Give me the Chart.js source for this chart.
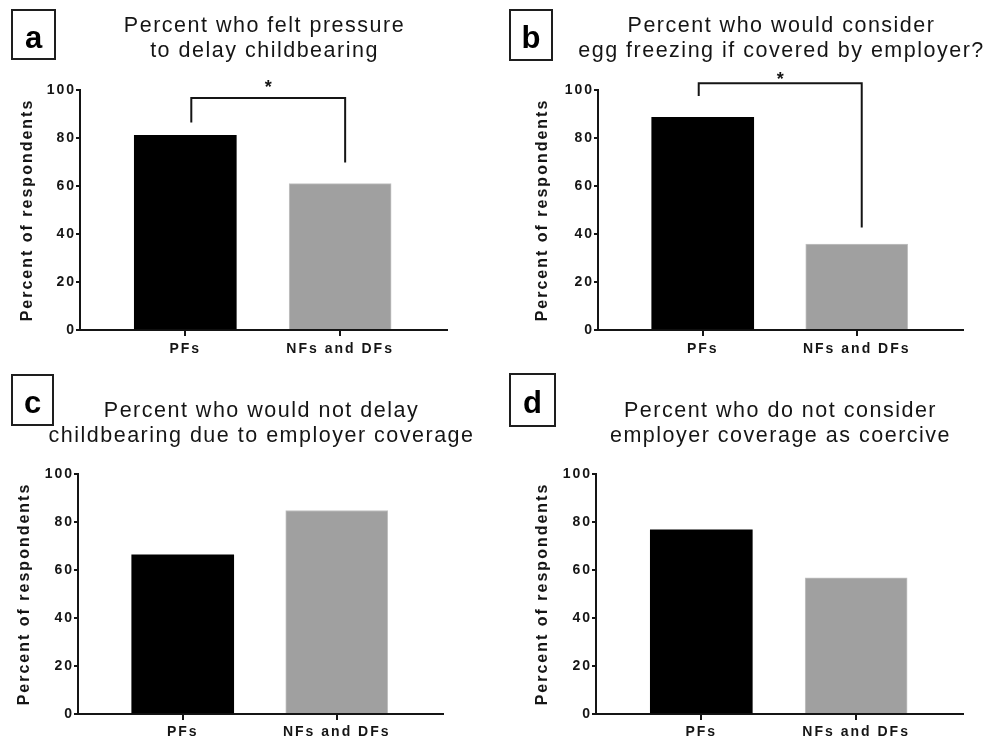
<!DOCTYPE html>
<html>
<head>
<meta charset="utf-8">
<script src="https://cdn.jsdelivr.net/npm/chart.js@4.4.1/dist/chart.umd.min.js"></script>
<style>
  html, body { margin: 0; padding: 0; background: #fff; }
  #wrap { position: relative; width: 996px; height: 741px; overflow: hidden; background: #fff; }
  #wrap canvas { position: absolute; }
</style>
</head>
<body>
<div id="wrap">
  <canvas id="panelA" width="498" height="370" style="left:0;top:0"></canvas>
  <canvas id="panelB" width="498" height="370" style="left:498px;top:0"></canvas>
  <canvas id="panelC" width="498" height="371" style="left:0;top:370px"></canvas>
  <canvas id="panelD" width="498" height="371" style="left:498px;top:370px"></canvas>
</div>
<script>
// Survey groups on the x axis
const categories = ['PFs', 'NFs and DFs'];
// Y axis tick values (percent)
const yTickValues = [0, 20, 40, 60, 80, 100];
const yAxisTitle = 'Percent of respondents';

// Percent of respondents per group
const feltPressure = [81.1, 61.0];
const wouldConsiderFreezing = [88.6, 35.8];
const wouldNotDelay = [66.3, 84.8];
const notCoercive = [76.7, 56.7];

// Panel headings
const titleA = ['Percent who felt pressure', 'to delay childbearing'];
const titleB = ['Percent who would consider', 'egg freezing if covered by employer?'];
const titleC = ['Percent who would not delay', 'childbearing due to employer coverage'];
const titleD = ['Percent who do not consider', 'employer coverage as coercive'];
const panelLetters = ['a', 'b', 'c', 'd'];

// Significance brackets (heights in percent units)
const bracketA = { mark: '*', top: 96.7, leftEnd: 86.5, rightEnd: 69.8, markAt: 102.8 };
const bracketB = { mark: '*', top: 102.8, leftEnd: 97.5, rightEnd: 42.7, markAt: 106.3 };

const FONT = '"Liberation Sans", Arial, Helvetica, sans-serif';
const INK = '#151515';
Chart.defaults.font.family = FONT;
Chart.defaults.color = INK;

// Letter box, two-line heading and significance bracket for each panel
const panelDecor = {
  id: 'panelDecor',
  beforeUpdate(chart) { chart.ctx.letterSpacing = '2px'; },
  beforeDraw(chart) { chart.ctx.letterSpacing = '2px'; },
  afterDraw(chart, args, opts) {
    const ctx = chart.ctx;
    const { chartArea, scales: { x, y } } = chart;
    ctx.save();

    // boxed panel letter
    const b = opts.box;
    ctx.lineWidth = 2;
    ctx.strokeStyle = '#1e1e1e';
    ctx.strokeRect(b.x, b.y, b.w, b.h);
    ctx.letterSpacing = '0px';
    ctx.fillStyle = '#000';
    ctx.font = 'bold 31px ' + FONT;
    ctx.textAlign = 'center';
    ctx.textBaseline = 'alphabetic';
    ctx.fillText(opts.letter, b.x + b.w / 2, opts.letterBase);

    // heading, centred over the plot area
    ctx.letterSpacing = '1.5px';
    ctx.font = '21.5px ' + FONT;
    ctx.fillStyle = INK;
    const cx = (chartArea.left + chartArea.right) / 2 + 1;
    opts.title.forEach((line, i) => ctx.fillText(line, cx, opts.titleBase + i * 25));

    // significance bracket between the two groups
    if (opts.bracket) {
      const br = opts.bracket;
      const x0 = x.getPixelForValue(0) + opts.bracketDx[0];
      const x1 = x.getPixelForValue(1) + opts.bracketDx[1];
      const yt = y.getPixelForValue(br.top);
      ctx.beginPath();
      ctx.lineWidth = 2;
      ctx.strokeStyle = INK;
      ctx.lineJoin = 'miter';
      ctx.moveTo(x0, y.getPixelForValue(br.leftEnd));
      ctx.lineTo(x0, yt);
      ctx.lineTo(x1, yt);
      ctx.lineTo(x1, y.getPixelForValue(br.rightEnd));
      ctx.stroke();
      ctx.letterSpacing = '0px';
      ctx.font = 'bold 18px ' + FONT;
      ctx.fillText(br.mark, (x0 + x1) / 2, y.getPixelForValue(br.markAt) + 10);
    }
    ctx.restore();
  }
};

function buildPanel(id, values, cfg) {
  return new Chart(document.getElementById(id), {
    type: 'bar',
    data: {
      datasets: [{
        data: values.map((v, i) => ({ x: i, y: v })),
        backgroundColor: ['#000000', '#a0a0a0'],
        borderColor: ['#000000', '#c2c2c2'],
        borderWidth: [0, 1],
        barThickness: 102
      }]
    },
    options: {
      responsive: false,
      animation: false,
      events: [],
      layout: { padding: { left: 0, top: cfg.top, right: cfg.right, bottom: 0 } },
      plugins: {
        legend: { display: false },
        tooltip: { enabled: false },
        panelDecor: {
          letter: cfg.letter,
          box: cfg.box,
          letterBase: cfg.letterBase,
          title: cfg.title,
          titleBase: cfg.titleBase,
          bracket: cfg.bracket || null,
          bracketDx: cfg.bracketDx || [0, 0]
        }
      },
      scales: {
        x: {
          type: 'linear',
          offset: false,
          min: -0.68,
          max: 1.69,
          afterBuildTicks: s => { s.ticks = categories.map((c, i) => ({ value: i })); },
          afterFit: s => { s.height = cfg.xHeight; },
          ticks: {
            callback: v => categories[v],
            font: { size: 14, weight: 'bold' },
            color: INK,
            padding: cfg.xPad,
            maxRotation: 0,
            autoSkip: false
          },
          grid: { offset: false, drawOnChartArea: false, tickLength: 6, color: INK, lineWidth: 2 },
          border: { color: INK, width: 2 }
        },
        y: {
          min: 0,
          max: 100,
          afterBuildTicks: s => { s.ticks = yTickValues.map(v => ({ value: v })); },
          afterFit: s => { s.width = cfg.yWidth; },
          ticks: {
            font: { size: 14, weight: 'bold' },
            color: INK,
            padding: 0
          },
          grid: { drawOnChartArea: false, tickLength: 4, color: INK, lineWidth: 2 },
          border: { color: INK, width: 2 },
          title: {
            display: true,
            text: yAxisTitle,
            font: { size: 16, weight: 'bold' },
            color: INK,
            padding: { top: cfg.yTitlePad, bottom: 0 }
          }
        }
      }
    },
    plugins: [panelDecor]
  });
}

buildPanel('panelA', feltPressure, {
  letter: panelLetters[0], title: titleA, titleBase: 32,
  box: { x: 12, y: 10, w: 43, h: 49 }, letterBase: 48,
  top: 90, right: 51, yWidth: 80, xHeight: 40, xPad: 5, yTitlePad: 18,
  bracket: bracketA, bracketDx: [6, 5]
});
buildPanel('panelB', wouldConsiderFreezing, {
  letter: panelLetters[1], title: titleB, titleBase: 32,
  box: { x: 12, y: 10, w: 42, h: 50 }, letterBase: 48,
  top: 90, right: 33, yWidth: 100, xHeight: 40, xPad: 5, yTitlePad: 35,
  bracket: bracketB, bracketDx: [-4, 5]
});
buildPanel('panelC', wouldNotDelay, {
  letter: panelLetters[2], title: titleC, titleBase: 47,
  box: { x: 12, y: 5, w: 41, h: 50 }, letterBase: 43,
  top: 104, right: 55, yWidth: 78, xHeight: 27, xPad: 4, yTitlePad: 15
});
buildPanel('panelD', notCoercive, {
  letter: panelLetters[3], title: titleD, titleBase: 47,
  box: { x: 12, y: 4, w: 45, h: 52 }, letterBase: 43,
  top: 104, right: 33, yWidth: 98, xHeight: 27, xPad: 4, yTitlePad: 35
});
</script>
</body>
</html>
